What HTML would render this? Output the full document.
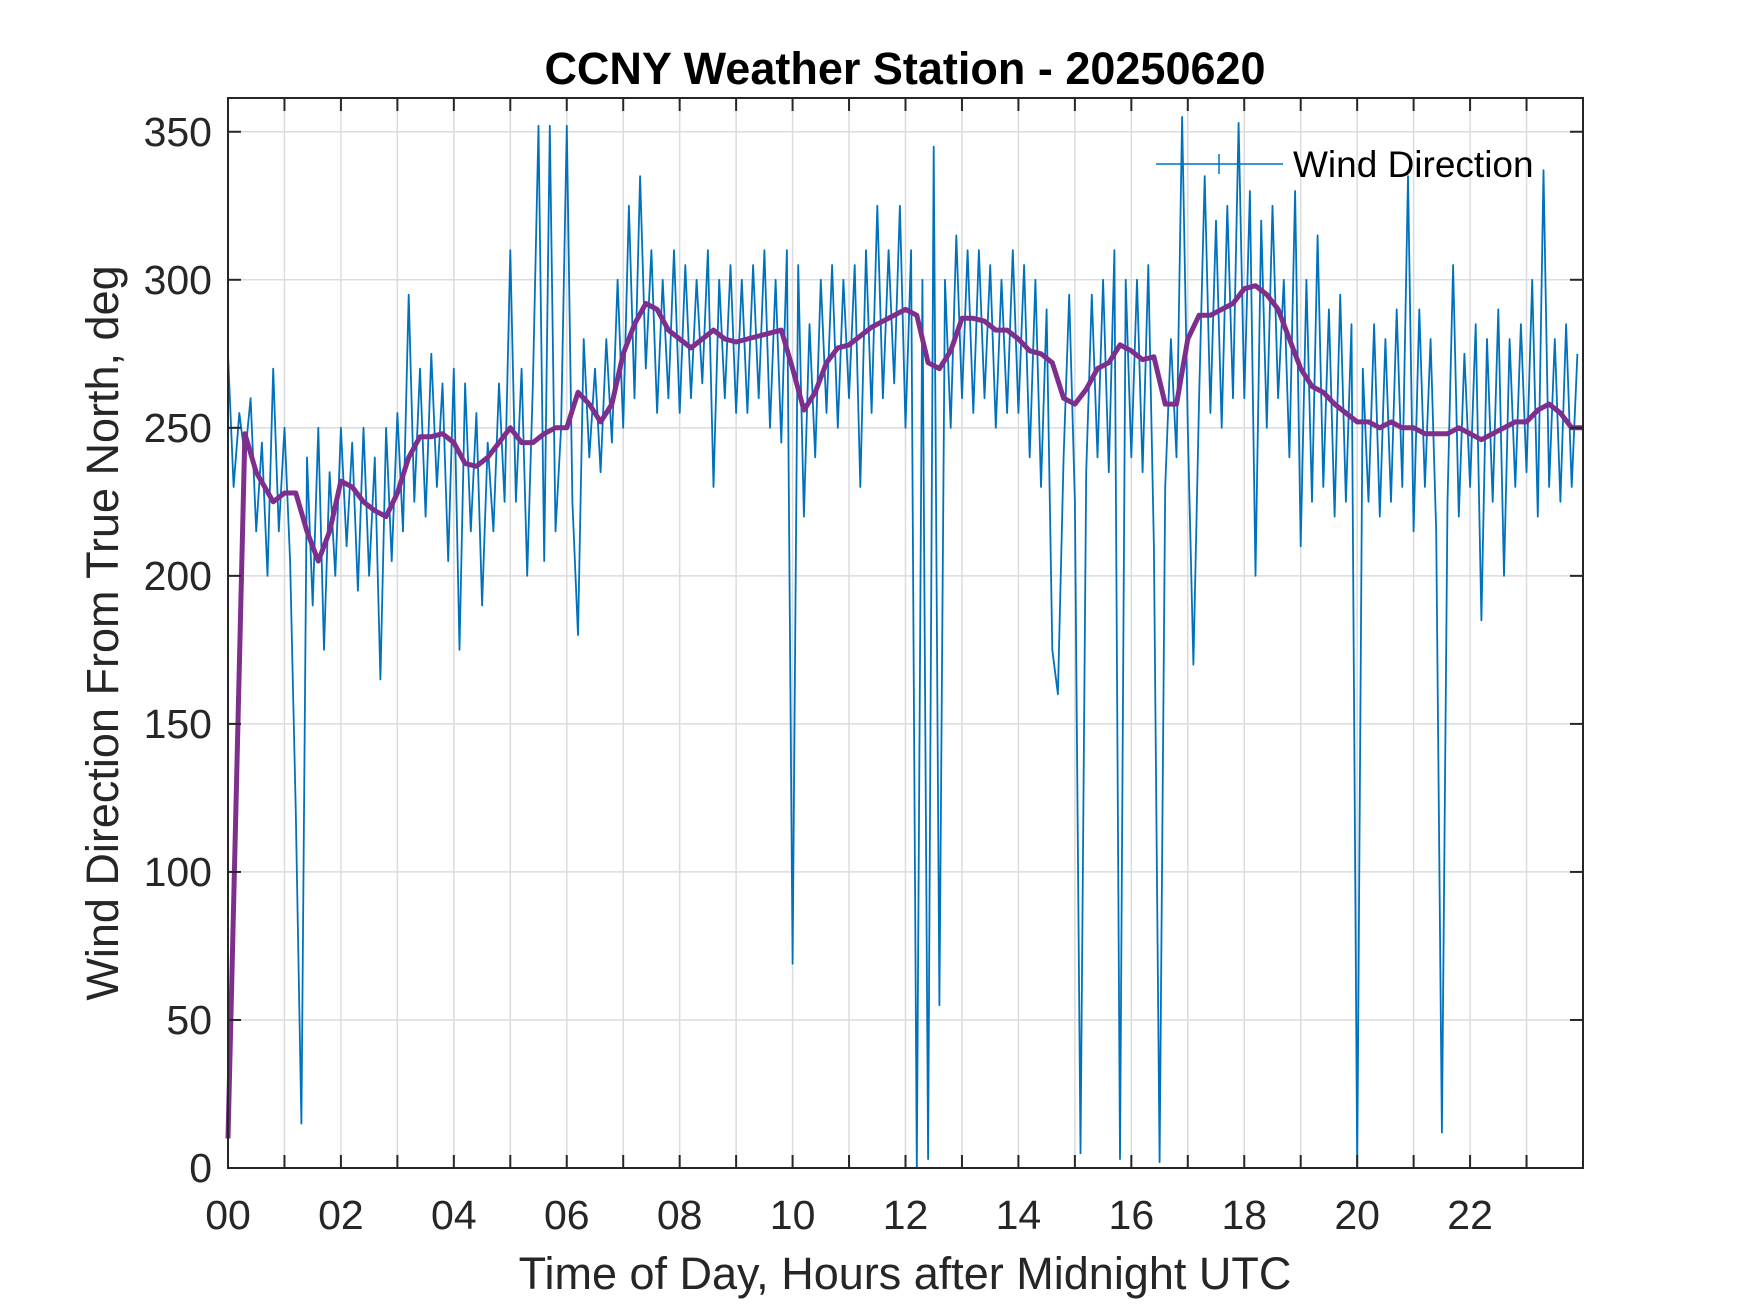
<!DOCTYPE html>
<html><head><meta charset="utf-8">
<style>
html,body{margin:0;padding:0;background:#fff;}
svg{display:block;font-family:"Liberation Sans",Arial,sans-serif;}
</style></head>
<body>
<svg id="chart" width="1750" height="1313" viewBox="0 0 1750 1313" xmlns="http://www.w3.org/2000/svg">
<rect width="1750" height="1313" fill="#fff"/>
<g id="grid"></g>
<g id="series"></g>
<g id="axes"></g>
<text x="905" y="84" text-anchor="middle" font-size="45" font-weight="bold" fill="#000">CCNY Weather Station - 20250620</text>
<text x="905" y="1289" text-anchor="middle" font-size="45" fill="#262626">Time of Day, Hours after Midnight UTC</text>
<text transform="translate(118,633) rotate(-90)" text-anchor="middle" font-size="45" fill="#262626">Wind Direction From True North, deg</text>
<g>
<line x1="1156" y1="164" x2="1283" y2="164" stroke="#0072BD" stroke-width="1.5"/>
<line x1="1219" y1="154" x2="1219" y2="174" stroke="#0072BD" stroke-width="1.5"/>
<text x="1293" y="177" font-size="37" fill="#000">Wind Direction</text>
</g>
</svg>
<script>
const xTicks = [0,2,4,6,8,10,12,14,16,18,20,22];
const xTickLabels = ["00","02","04","06","08","10","12","14","16","18","20","22"];
const yTicks = [0,50,100,150,200,250,300,350];
const blueStep = 0.1;
const blueValues = [
275,230,255,240,260,215,245,200,270,215,
250,205,120,15,240,190,250,175,235,200,
250,210,245,195,250,200,240,165,250,205,
255,215,295,225,270,220,275,230,265,205,
270,175,265,215,255,190,245,215,265,225,
310,225,270,200,265,352,205,352,215,250,
352,225,180,280,240,270,235,280,245,300,
250,325,260,335,270,310,255,300,260,310,
255,305,260,300,265,310,230,300,260,305,
255,300,255,305,260,310,250,300,245,310,
69,305,220,285,240,300,255,305,250,300,
260,305,230,310,255,325,260,310,265,325,
250,310,0,300,3,345,55,300,250,315,
260,310,255,310,260,305,250,300,255,310,
255,305,240,300,230,290,175,160,240,295,
225,5,235,295,240,300,235,310,3,300,
240,300,235,305,210,2,230,280,240,355,
250,170,260,335,255,320,250,325,260,353,
260,330,200,320,250,325,260,300,240,330,
210,300,225,315,230,290,220,295,225,285,
0,270,225,285,220,280,225,290,230,335,
215,290,230,280,215,12,225,305,220,275,
230,285,185,280,225,290,200,280,230,285,
235,300,220,337,230,280,225,285,230,275
];
const meanHours = [0,0.3,0.5,0.8,1.0,1.2,1.4,1.6,1.8,2.0,2.2,2.4,2.6,2.8,3.0,3.2,3.4,3.6,3.8,4.0,4.2,4.4,4.6,4.8,5.0,5.2,5.4,5.6,5.8,6.0,6.2,6.4,6.6,6.8,7.0,7.2,7.4,7.6,7.8,8.0,8.2,8.4,8.6,8.8,9.0,9.2,9.4,9.6,9.8,10.0,10.2,10.4,10.6,10.8,11.0,11.2,11.4,11.6,11.8,12.0,12.2,12.4,12.6,12.8,13.0,13.2,13.4,13.6,13.8,14.0,14.2,14.4,14.6,14.8,15.0,15.2,15.4,15.6,15.8,16.0,16.2,16.4,16.6,16.8,17.0,17.2,17.4,17.6,17.8,18.0,18.2,18.4,18.6,18.8,19.0,19.2,19.4,19.6,19.8,20.0,20.2,20.4,20.6,20.8,21.0,21.2,21.4,21.6,21.8,22.0,22.2,22.4,22.6,22.8,23.0,23.2,23.4,23.6,23.8,24.0];
const meanValues = [10,248,235,225,228,228,215,205,215,232,230,225,222,220,228,240,247,247,248,245,238,237,240,245,250,245,245,248,250,250,262,258,252,258,275,285,292,290,283,280,277,280,283,280,279,280,281,282,283,270,256,262,272,277,278,281,284,286,288,290,288,272,270,276,287,287,286,283,283,280,276,275,272,260,258,263,270,272,278,276,273,274,258,258,280,288,288,290,292,297,298,295,290,280,270,264,262,258,255,252,252,250,252,250,250,248,248,248,250,248,246,248,250,252,252,256,258,255,250,250];

const L=228,R=1583,T=98,B=1168,XMAX=24,YMAX=361.4;
const xs=h=>L+(h/XMAX)*(R-L);
const ys=v=>B-(v/YMAX)*(B-T);
const NS="http://www.w3.org/2000/svg";
function mk(tag,attrs,parent){const e=document.createElementNS(NS,tag);for(const k in attrs)e.setAttribute(k,attrs[k]);parent.appendChild(e);return e;}
const grid=document.getElementById('grid'),series=document.getElementById('series'),axes=document.getElementById('axes');
for(let h=1;h<24;h++){
  const g=mk('line',{x1:xs(h),x2:xs(h),y1:T,y2:B,stroke:'#dcdcdc','stroke-width':1.5},grid);
  
  
}
yTicks.forEach(v=>{if(v===0)return;
  const g=mk('line',{x1:L,x2:R,y1:ys(v),y2:ys(v),stroke:'#dcdcdc','stroke-width':1.5},grid);
  
  
});
let d='';blueValues.forEach((v,i)=>{d+=(i?'L':'M')+xs(i*blueStep).toFixed(1)+','+ys(v).toFixed(1);});
const bl=mk('path',{d:d,fill:'none',stroke:'#0072BD','stroke-width':1.8,'stroke-linejoin':'round'},series);


let d2='';meanValues.forEach((v,i)=>{d2+=(i?'L':'M')+xs(meanHours[i]).toFixed(1)+','+ys(v).toFixed(1);});
const ml=mk('path',{d:d2,fill:'none',stroke:'#7E2F8E','stroke-width':5,'stroke-linejoin':'round'},series);


const box=mk('rect',{x:L,y:T,width:R-L,height:B-T,fill:'none',stroke:'#262626','stroke-width':2},axes);


for(let h=1;h<24;h++){
  mk('line',{x1:xs(h),x2:xs(h),y1:B,y2:B-13,stroke:'#262626','stroke-width':2},axes);
  mk('line',{x1:xs(h),x2:xs(h),y1:T,y2:T+13,stroke:'#262626','stroke-width':2},axes);
}
xTicks.forEach((h,i)=>{
  const t=mk('text',{x:xs(h),y:1229,'text-anchor':'middle','font-size':41,fill:'#262626'},axes);
  t.textContent=xTickLabels[i];
  
  
});
yTicks.forEach(v=>{
  mk('line',{x1:L,x2:L+13,y1:ys(v),y2:ys(v),stroke:'#262626','stroke-width':2},axes);
  mk('line',{x1:R,x2:R-13,y1:ys(v),y2:ys(v),stroke:'#262626','stroke-width':2},axes);
  const t=mk('text',{x:212,y:ys(v)+14,'text-anchor':'end','font-size':41,fill:'#262626'},axes);
  t.textContent=String(v);
  
  
});
</script>
</body></html>
